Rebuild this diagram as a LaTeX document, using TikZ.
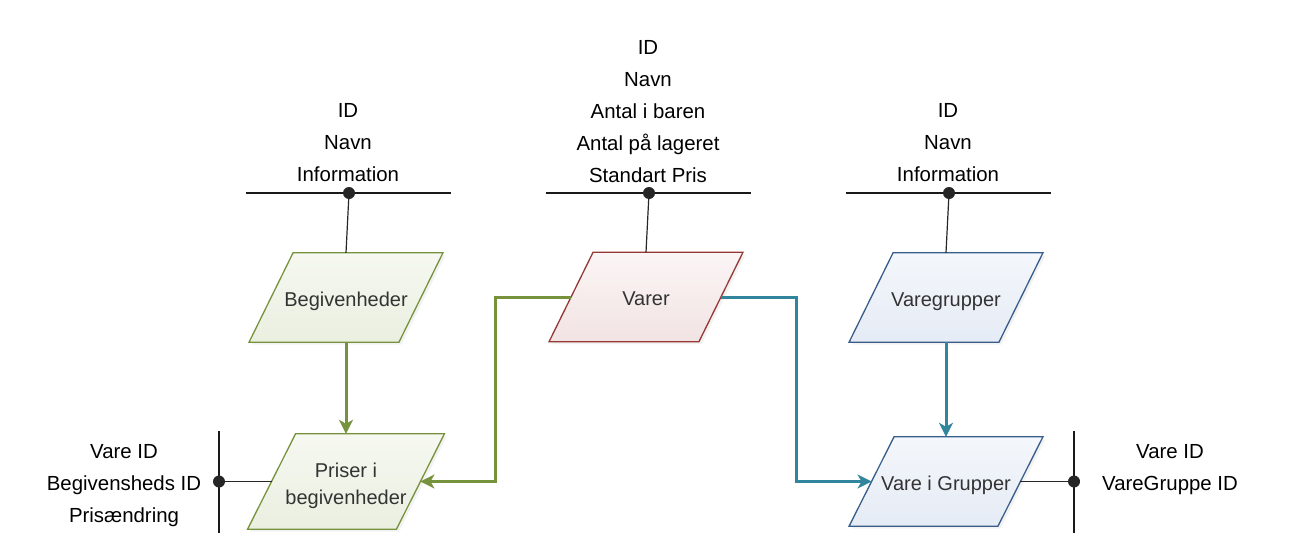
\documentclass[tikz,border=0pt]{standalone}
\usepackage{fontspec}
\setmainfont{Liberation Sans}
\usetikzlibrary{arrows.meta,shadows,backgrounds}
\definecolor{gline}{HTML}{76923C}
\definecolor{rline}{HTML}{953735}
\definecolor{bline}{HTML}{385D8A}
\definecolor{tline}{HTML}{31859C}
\definecolor{gtop}{HTML}{F6F8F1}
\definecolor{gbot}{HTML}{EAEFE0}
\definecolor{rtop}{HTML}{FBF5F5}
\definecolor{rbot}{HTML}{F2E3E3}
\definecolor{btop}{HTML}{F4F7FB}
\definecolor{bbot}{HTML}{E5EBF5}
\newcommand{\attrfont}{\fontsize{20.4}{32}\selectfont}
\newcommand{\shapefont}{\fontsize{20}{27}\selectfont}
% one-line and two-line shape labels, placed by their baseline
\newcommand{\onel}[1]{\raisebox{-8.7pt}[0pt][0pt]{#1}}
\newcommand{\twol}[2]{\raisebox{-23pt}[0pt][0pt]{\begin{tabular}[b]{@{}c@{}}#1\\#2\end{tabular}}}
% parallelogram outline behind a named node: #1 node, #2 style, #3 half slant
\newcommand{\pgram}[3]{%
  \path[#2, line width=1.3pt, drop shadow={shadow xshift=2.5pt, shadow yshift=-2.5pt, fill=black!10}]
    ([xshift=-#3]#1.south west) -- ([xshift=-#3]#1.south east) --
    ([xshift=#3]#1.north east) -- ([xshift=#3]#1.north west) -- cycle;}
\begin{document}
\begin{tikzpicture}[x=1pt,y=-1pt,
  para/.style={rectangle, minimum width=149.5pt, minimum height=89pt,
    inner sep=0pt, font=\shapefont, text=black!80},
  pgreen/.style={draw=gline, top color=gtop, bottom color=gbot},
  pred/.style={draw=rline, top color=rtop, bottom color=rbot},
  pblue/.style={draw=bline, top color=btop, bottom color=bbot},
  attr/.style={font=\attrfont, align=center, text=black},
  bar/.style={line width=1.8pt, draw=black!90},
  dotn/.style={circle, fill=black!85, inner sep=0pt, minimum size=12pt},
  link/.style={line width=1.2pt, draw=black!85},
  garrow/.style={line width=3pt, draw=gline, -{Stealth[length=14pt,width=14pt,inset=4pt]}},
  tarrow/.style={line width=3pt, draw=tline, -{Stealth[length=14pt,width=14pt,inset=4pt]}}
]
\useasboundingbox (0,0) rectangle (1289,551);

% shapes
\node[para] (beg) at (346,297.5) {\onel{Begivenheder}};
\node[para] (var) at (646,297) {\onel{Varer}};
\node[para] (vgr) at (946,297.5) {\onel{Varegrupper}};
\node[para, minimum width=148.5pt, minimum height=95pt] (pri) at (346,481.5) {\twol{Priser i}{begivenheder}};
\node[para, minimum width=148.5pt] (vig) at (946,481.5) {\onel{Vare i Grupper}};
\begin{scope}[on background layer]
  \pgram{beg}{pgreen}{22pt}
  \pgram{var}{pred}{22pt}
  \pgram{vgr}{pblue}{22pt}
  \pgram{pri}{pgreen}{24pt}
  \pgram{vig}{pblue}{22.5pt}
\end{scope}

% attribute texts
\node[attr] (a1) at (348,143) {ID\\Navn\\Information};
\node[attr] (a2) at (648,112) {ID\\Navn\\Antal i baren\\Antal på lageret\\Standart Pris};
\node[attr] (a3) at (948,143) {ID\\Navn\\Information};
\node[attr] (a4) at (124,485.5) {Vare ID\\Begivensheds ID\\Prisændring};
\node[attr] (a5) at (1170,469.5) {Vare ID\\VareGruppe ID};

% attribute bars
\coordinate (b1l) at (246,193); \coordinate (b1r) at (451,193);
\coordinate (b2l) at (546,193); \coordinate (b2r) at (751,193);
\coordinate (b3l) at (846,193); \coordinate (b3r) at (1051,193);
\coordinate (b4t) at (219,431); \coordinate (b4b) at (219,533);
\coordinate (b5t) at (1074,431); \coordinate (b5b) at (1074,533);
\draw[bar] (b1l) -- (b1r);
\draw[bar] (b2l) -- (b2r);
\draw[bar] (b3l) -- (b3r);
\draw[bar] (b4t) -- (b4b);
\draw[bar] (b5t) -- (b5b);
\node[dotn] (d1) at (349,193) {};
\node[dotn] (d2) at (649,193) {};
\node[dotn] (d3) at (949,193) {};
\node[dotn] (d4) at (219,481.5) {};
\node[dotn] (d5) at (1074,481.5) {};
\draw[link] (d1) -- (beg.north);
\draw[link] (d2) -- (var.north);
\draw[link] (d3) -- (vgr.north);
\draw[link] (d4) -- (pri.west);
\draw[link] (vig.east) -- (d5);

% connectors
\coordinate (gc) at (495,0);
\coordinate (tc) at (796,0);
\draw[garrow] (beg.south) -- (pri.north);
\draw[garrow] (var.west) -- (var.west -| gc) -- (gc |- pri.east) -- (pri.east);
\draw[tarrow] (var.east) -- (var.east -| tc) -- (tc |- vig.west) -- (vig.west);
\draw[tarrow] (vgr.south) -- (vig.north);
\end{tikzpicture}
\end{document}
